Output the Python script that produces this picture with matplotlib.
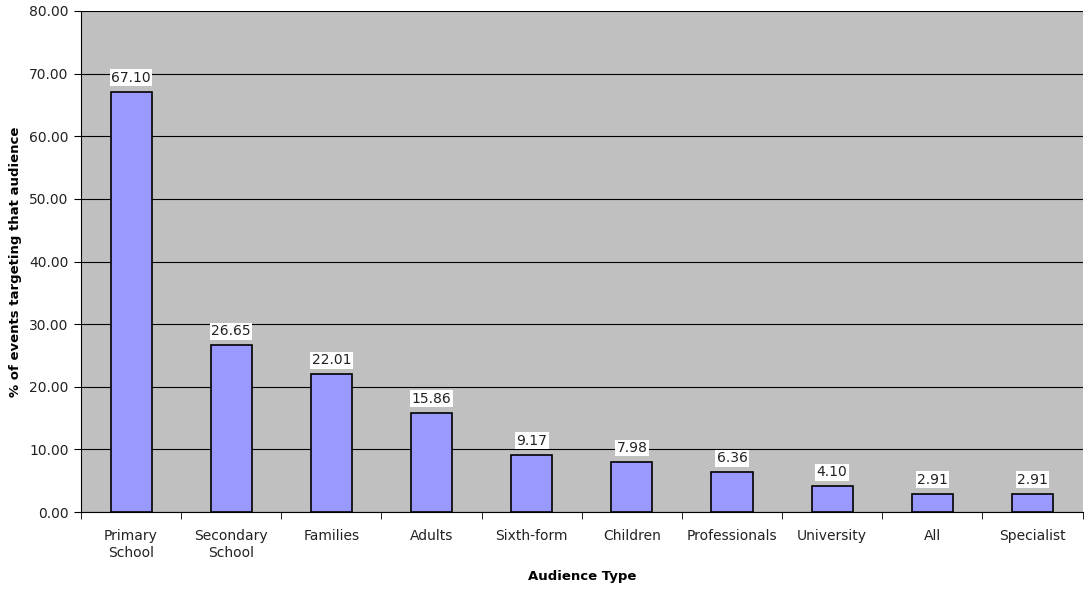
import numpy as np
import matplotlib
matplotlib.use("Agg")
import matplotlib.pyplot as plt
from matplotlib.ticker import MultipleLocator, FormatStrFormatter

# Audience breakdown (% of events)
categories = ["Primary\nSchool", "Secondary\nSchool", "Families", "Adults", "Sixth-form",
              "Children", "Professionals", "University", "All", "Specialist"]
values = [67.10, 26.65, 22.01, 15.86, 9.17, 7.98, 6.36, 4.10, 2.91, 2.91]

plt.rcParams['font.family'] = ['DejaVu Sans']

fig = plt.figure(figsize=(10.84, 5.94), dpi=100)
fig.patch.set_facecolor('white')
ax = fig.add_axes([0.0747, 0.138, 0.924, 0.8435])
ax.set_facecolor('#C0C0C0')

x = np.arange(len(categories))
ax.bar(x, values, width=0.41, color='#9999FF', edgecolor='black', linewidth=1.2, zorder=3)

for xi, v in zip(x, values):
    ax.annotate(f"{v:.2f}", (xi, v), xytext=(0, 5), textcoords='offset points',
                ha='center', va='bottom', fontsize=10, color='#222222',
                bbox=dict(boxstyle='square,pad=0.1', fc='white', ec='none'), zorder=4)

ax.set_xlim(-0.5, len(categories) - 0.5)
ax.set_ylim(0, 80)
ax.yaxis.set_major_locator(MultipleLocator(10))
ax.yaxis.set_major_formatter(FormatStrFormatter('%.2f'))
ax.grid(axis='y', color='black', linewidth=0.8, zorder=1)
ax.set_axisbelow(True)

# category labels centred under bars, ticks between categories
ax.set_xticks(x)
ax.set_xticklabels(categories, fontsize=10, color='#222222', linespacing=1.3)
ax.tick_params(axis='x', length=0, pad=12)
ax.set_xticks(np.arange(len(categories) + 1) - 0.5, minor=True)
ax.tick_params(axis='x', which='minor', length=5, direction='out', color='black')
ax.tick_params(axis='y', length=5, direction='out', labelsize=10, labelcolor='#222222', pad=4)

for side in ['top', 'right']:
    ax.spines[side].set_visible(False)
ax.spines['left'].set_color('black')
ax.spines['bottom'].set_color('black')

ax.set_xlabel("Audience Type", fontsize=9.5, fontweight='bold', labelpad=7)
ax.set_ylabel("% of events targeting that audience", fontsize=9.5, fontweight='bold', labelpad=5)

fig.savefig("out.png", dpi=100)
